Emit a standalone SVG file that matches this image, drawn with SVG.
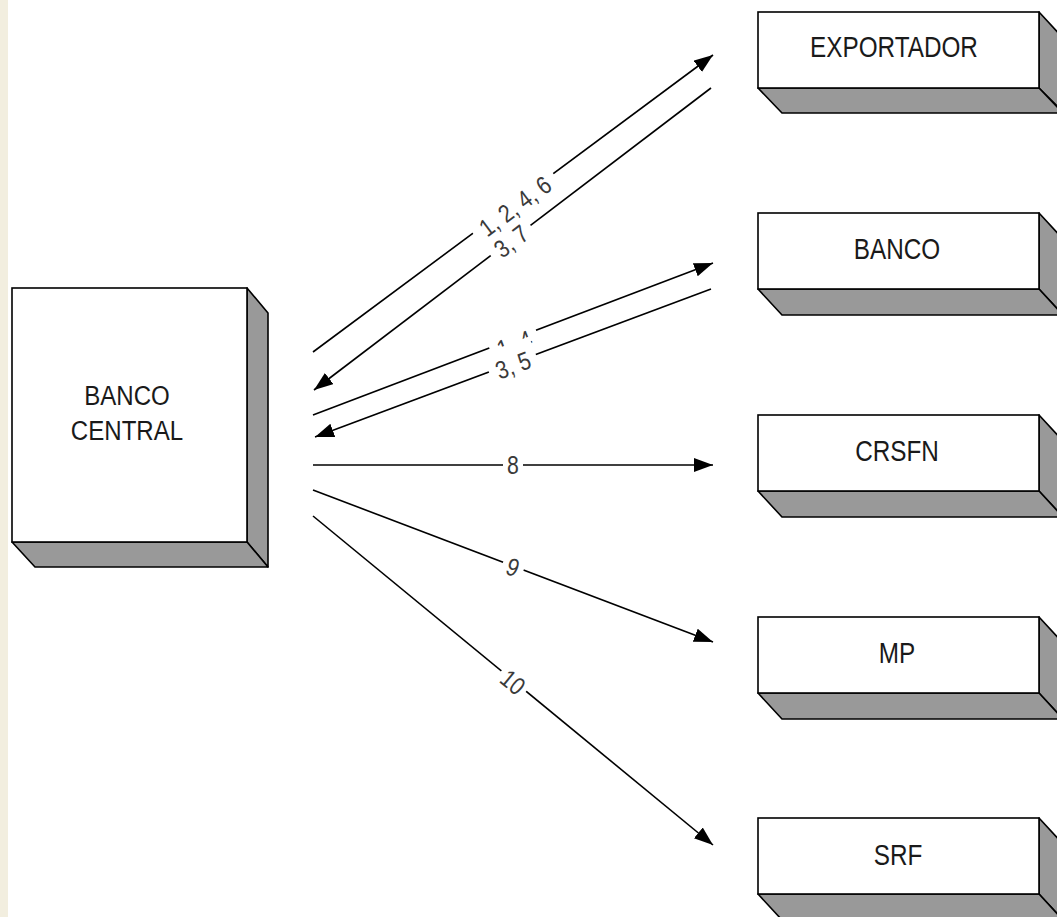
<svg xmlns="http://www.w3.org/2000/svg" width="1057" height="917" viewBox="0 0 1057 917">
<style>
.front{fill:#ffffff;stroke:#000;stroke-width:1.6}
.side{fill:#999999;stroke:#000;stroke-width:1.6;stroke-linejoin:round}
.nt{font-family:"Liberation Sans",Arial,sans-serif;font-size:30px;fill:#1a1a1a;text-anchor:middle}
.ct{font-family:"Liberation Sans",Arial,sans-serif;font-size:28px;fill:#1a1a1a;text-anchor:middle}
.lb{font-family:"Liberation Sans",Arial,sans-serif;font-size:25px;fill:#3a3a3a;text-anchor:middle}
.bg{fill:#ffffff}
.cn{stroke:#000;stroke-width:1.6;fill:none}
</style>
<defs>
<marker id="ah" markerUnits="userSpaceOnUse" markerWidth="22" markerHeight="16" refX="19" refY="7" orient="auto">
<path d="M0,0 L19,7 L0,14 z" fill="#000"/>
</marker>
</defs>
<rect x="0" y="0" width="1057" height="917" fill="#ffffff"/>
<rect x="0" y="0" width="8" height="917" fill="#f2eedf"/>

<g id="banco-central">
<polygon class="side" points="247,288 268,313 268,567 247,542"/>
<polygon class="side" points="12,542 35,567 268,567 247,542"/>
<rect class="front" x="12" y="288" width="235" height="254"/>
<text class="ct" transform="translate(127,405) scale(0.86,1)">BANCO</text>
<text class="ct" transform="translate(127,440) scale(0.86,1)">CENTRAL</text>
</g>

<g id="exportador">
<polygon class="side" points="1039,12 1063,38 1063,112 1039,88"/>
<polygon class="side" points="758,88 782,113 1063,113 1039,88"/>
<rect class="front" x="758" y="12" width="281" height="76"/>
<text class="nt" transform="translate(894,57) scale(0.81,1)">EXPORTADOR</text>
</g>

<g id="banco">
<polygon class="side" points="1039,213 1063,239 1063,315 1039,289"/>
<polygon class="side" points="758,289 782,315 1063,315 1039,289"/>
<rect class="front" x="758" y="213" width="281" height="76"/>
<text class="nt" transform="translate(897,259) scale(0.81,1)">BANCO</text>
</g>

<g id="crsfn">
<polygon class="side" points="1039,415 1063,441 1063,517 1039,491"/>
<polygon class="side" points="758,491 782,517 1063,517 1039,491"/>
<rect class="front" x="758" y="415" width="281" height="76"/>
<text class="nt" transform="translate(897,461) scale(0.81,1)">CRSFN</text>
</g>

<g id="mp">
<polygon class="side" points="1039,617 1063,643 1063,719 1039,693"/>
<polygon class="side" points="758,693 782,719 1063,719 1039,693"/>
<rect class="front" x="758" y="617" width="281" height="76"/>
<text class="nt" transform="translate(897,663) scale(0.81,1)">MP</text>
</g>

<g id="srf">
<polygon class="side" points="1039,818 1063,844 1063,920 1039,894"/>
<polygon class="side" points="758,894 782,920 1063,920 1039,894"/>
<rect class="front" x="758" y="818" width="281" height="76"/>
<text class="nt" transform="translate(898,865) scale(0.81,1)">SRF</text>
</g>

<g id="connectors">
<line class="cn" x1="313" y1="352" x2="713" y2="55" marker-end="url(#ah)"/>
<line class="cn" x1="711" y1="88" x2="314" y2="390" marker-end="url(#ah)"/>
<line class="cn" x1="313" y1="415" x2="713" y2="263" marker-end="url(#ah)"/>
<line class="cn" x1="711" y1="289" x2="315" y2="437" marker-end="url(#ah)"/>
<line class="cn" x1="313" y1="465" x2="713" y2="465" marker-end="url(#ah)"/>
<line class="cn" x1="313" y1="490" x2="713" y2="642" marker-end="url(#ah)"/>
<line class="cn" x1="313" y1="516" x2="713" y2="845" marker-end="url(#ah)"/>

<g transform="translate(515,206) rotate(-36.6)">
<rect class="bg" x="-50" y="-11" width="100" height="22"/>
<text class="lb" y="9" transform="scale(0.85,1)">1, 2, 4, 6</text>
</g>
<g transform="translate(511,241) rotate(-37.2)">
<rect class="bg" x="-25" y="-11" width="50" height="22"/>
<text class="lb" y="9" transform="scale(0.85,1)">3, 7</text>
</g>
<g transform="translate(513,340) rotate(-20.8)">
<rect class="bg" x="-25" y="-11" width="50" height="22"/>
<text class="lb" y="13" transform="scale(0.85,1)">1, 4</text>
</g>
<g transform="translate(513,365) rotate(-20.6)">
<rect class="bg" x="-25" y="-21" width="50" height="34"/>
<text class="lb" y="9" transform="scale(0.85,1)">3, 5</text>
</g>
<g transform="translate(513,465)">
<rect class="bg" x="-10" y="-11" width="20" height="22"/>
<text class="lb" y="9" transform="scale(0.85,1)">8</text>
</g>
<g transform="translate(513,567) rotate(20.8)">
<rect class="bg" x="-11" y="-11" width="22" height="22"/>
<text class="lb" y="9" transform="scale(0.85,1)">9</text>
</g>
<g transform="translate(513,682) rotate(39.4)">
<rect class="bg" x="-16" y="-11" width="32" height="22"/>
<text class="lb" y="9" transform="scale(0.85,1)">10</text>
</g>
</g>
</svg>
